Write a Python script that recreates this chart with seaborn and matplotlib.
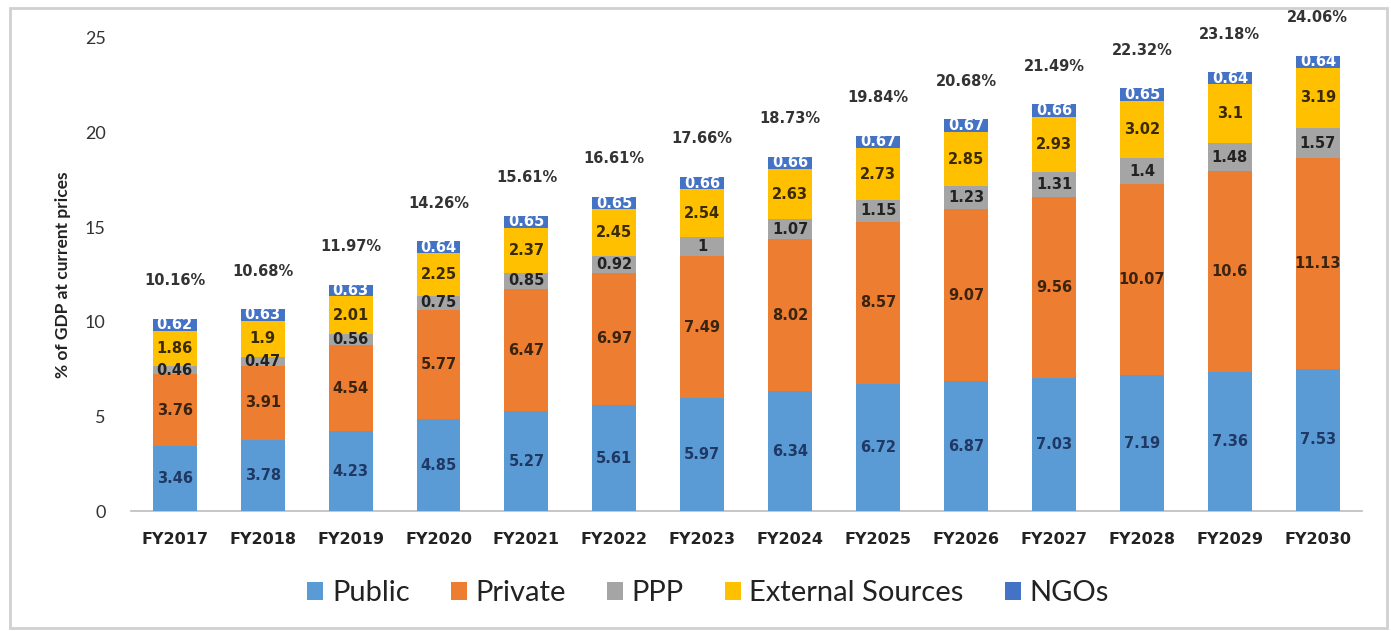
import matplotlib
matplotlib.use("Agg")
import matplotlib.pyplot as plt
import seaborn as sns
import numpy as np
import pandas as pd

years = ["FY2017", "FY2018", "FY2019", "FY2020", "FY2021", "FY2022", "FY2023",
         "FY2024", "FY2025", "FY2026", "FY2027", "FY2028", "FY2029", "FY2030"]
public = [3.46, 3.78, 4.23, 4.85, 5.27, 5.61, 5.97, 6.34, 6.72, 6.87, 7.03, 7.19, 7.36, 7.53]
private = [3.76, 3.91, 4.54, 5.77, 6.47, 6.97, 7.49, 8.02, 8.57, 9.07, 9.56, 10.07, 10.6, 11.13]
ppp = [0.46, 0.47, 0.56, 0.75, 0.85, 0.92, 1, 1.07, 1.15, 1.23, 1.31, 1.4, 1.48, 1.57]
external = [1.86, 1.9, 2.01, 2.25, 2.37, 2.45, 2.54, 2.63, 2.73, 2.85, 2.93, 3.02, 3.1, 3.19]
ngos = [0.62, 0.63, 0.63, 0.64, 0.65, 0.65, 0.66, 0.66, 0.67, 0.67, 0.66, 0.65, 0.64, 0.64]
totals = ["10.16%", "10.68%", "11.97%", "14.26%", "15.61%", "16.61%", "17.66%",
          "18.73%", "19.84%", "20.68%", "21.49%", "22.32%", "23.18%", "24.06%"]
total_vals = [10.16, 10.68, 11.97, 14.26, 15.61, 16.61, 17.66, 18.73, 19.84, 20.68, 21.49, 22.32, 23.18, 24.06]

series_names = ["Public", "Private", "PPP", "External Sources", "NGOs"]
series_vals = [public, private, ppp, external, ngos]
colors = ["#5B9BD5", "#ED7D31", "#A5A5A5", "#FFC000", "#4472C4"]
label_colors = ["#1F3864", "#3A2410", "#222222", "#3A2A00", "#FFFFFF"]

sns.set_theme(style="white")
plt.rcParams['font.family'] = ['Lato', 'DejaVu Sans']

fig = plt.figure(figsize=(13.91, 6.31), dpi=100)
ax = fig.add_axes([0.094, 0.190, 0.885, 0.750])

arr = np.array(series_vals)
cums = np.cumsum(arr, axis=0)
# draw from top of stack downward so each lower layer overlays
for i in range(len(series_names) - 1, -1, -1):
    df = pd.DataFrame({"year": years, "val": cums[i]})
    sns.barplot(data=df, x="year", y="val", color=colors[i], width=0.5,
                saturation=1, ax=ax, order=years, zorder=2 + (5 - i),
                linewidth=0, edgecolor="none")

# data labels
for i in range(len(series_names)):
    bottoms = cums[i] - arr[i]
    for j in range(len(years)):
        ax.text(j, bottoms[j] + arr[i][j] / 2, f"{series_vals[i][j]:g}",
                ha="center", va="center", fontsize=10.5, fontweight="bold",
                color=label_colors[i], family="DejaVu Sans", zorder=20)

for j in range(len(years)):
    ax.text(j, total_vals[j] + 2.0, totals[j], ha="center", va="center",
            fontsize=10.5, fontweight="bold", color="#333333",
            family="DejaVu Sans", clip_on=False, zorder=20)

ax.set_ylim(0, 25)
ax.set_xlim(-0.5, len(years) - 0.5)
ax.set_yticks([0, 5, 10, 15, 20, 25])
ax.tick_params(axis="y", labelsize=13, colors="#333333", length=0, pad=18)
ax.tick_params(axis="x", length=0, pad=15)
for lbl in ax.get_xticklabels():
    lbl.set_fontfamily("DejaVu Sans")
    lbl.set_fontweight("bold")
    lbl.set_fontsize(11.5)
    lbl.set_color("#222222")
ax.set_xlabel("")
ax.set_ylabel("% of GDP at current prices", fontsize=12.5, fontweight="bold",
              color="#222222", labelpad=10)
for s in ["top", "right", "left"]:
    ax.spines[s].set_visible(False)
ax.spines["bottom"].set_color("#BFBFBF")
ax.grid(False)

from matplotlib.patches import Patch, Rectangle
handles = [Patch(facecolor=c, edgecolor="none") for c in colors]
fig.legend(handles, series_names, loc="center", bbox_to_anchor=(0.509, 0.06),
           ncol=5, frameon=False, fontsize=21, handlelength=0.55,
           handleheight=0.55, handletextpad=0.3, columnspacing=1.4,
           labelcolor="#222222")

fig.patches.append(Rectangle((0.007, 0.005), 0.99, 0.982, transform=fig.transFigure,
                             fill=False, edgecolor="#D0D0D0", linewidth=2))

fig.savefig("out.png", dpi=100)
